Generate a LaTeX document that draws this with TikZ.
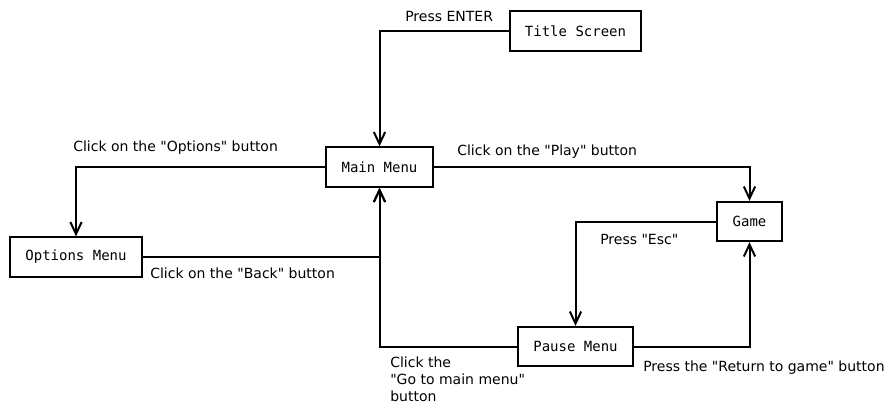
\documentclass[tikz,border=0pt]{standalone}
\usepackage{fontspec}
\setmainfont{DejaVu Sans}
\setmonofont{DejaVu Sans Mono}
\usepackage{tikz}
\usetikzlibrary{positioning, arrows.meta, calc}

\newcommand{\dq}{\textquotedbl}

\begin{document}
\begin{tikzpicture}[
    x=0.75pt, y=-0.75pt,
    every node/.style={font=\fontsize{10.5pt}{12.75pt}\selectfont},
    state/.style={draw, rectangle, line width=1.5pt, font=\ttfamily\fontsize{10.5pt}{12.75pt}\selectfont, inner xsep=11.5pt, minimum height=29.5pt},
    lbl/.style={anchor=base west, inner sep=0pt, align=left},
    link/.style={draw, line width=1.5pt, -{Straight Barb[length=9pt,width=8.5pt,line width=1.5pt]}}
]
\useasboundingbox (0,0) rectangle (889,408);

% states
\node[state] (title) at (575.5,31) {Title Screen};
\node[state] (main) at (379.5,167) {Main Menu};
\node[state] (options) at (76,257) {Options Menu};
\node[state] (game) at (749.5,221.5) {Game};
\node[state] (pause) at (575.5,346.5) {Pause Menu};

% transitions
\draw[link] (title.west) -| (main.north);
\draw[link] (main.east) -| (game.north);
\draw[link] (main.west) -| (options.north);
\draw[link] (options.east) -| (main.south);
\draw[link] (game.west) -| (pause.north);
\draw[link] (pause.east) -| (game.south);
\draw[link] (pause.west) -| (main.south);

% labels
\node[lbl] (lenter) at (405,21) {Press ENTER};
\node[lbl] (lplay) at (457,155) {Click on the \dq Play\dq{} button};
\node[lbl] (loptions) at (73,151) {Click on the \dq Options\dq{} button};
\node[lbl] (lback) at (150,278) {Click on the \dq Back\dq{} button};
\node[lbl] (lesc) at (600,244) {Press \dq Esc\dq};
\node[lbl] (lreturn) at (643,371) {Press the \dq Return to game\dq{} button};
\node[lbl, anchor=north west] (lgomain) at (390,357) {Click the\\\dq Go to main menu\dq\\button};

\end{tikzpicture}
\end{document}
